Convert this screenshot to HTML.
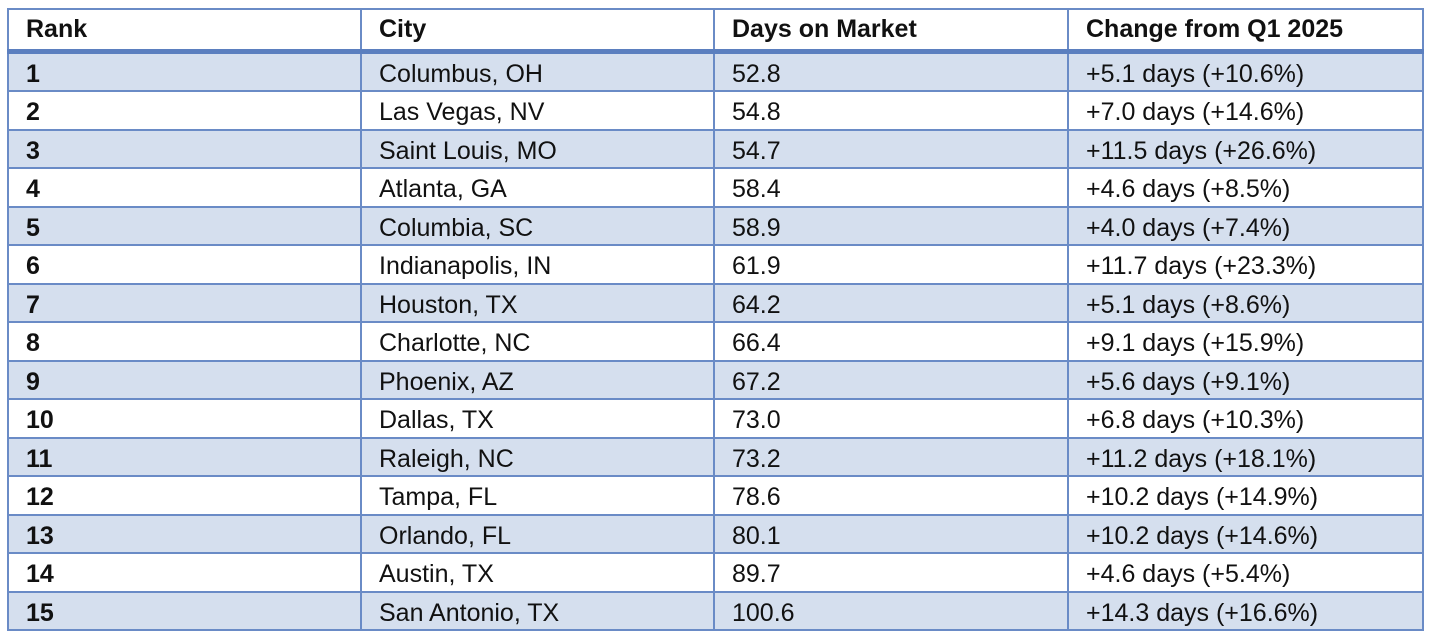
<!DOCTYPE html>
<html><head><meta charset="utf-8"><style>
html,body{margin:0;padding:0;background:#fff;width:1440px;height:641px;overflow:hidden}
table{position:absolute;left:7px;top:8px;border-collapse:collapse;font-family:"Liberation Sans",sans-serif;font-size:25px;color:#111}
td,th{border:2px solid #6a8bc6;padding:0 0 0 17px;text-align:left;white-space:nowrap}
td{height:32.5px;line-height:32.5px;padding-top:4px}
th{height:38.5px;line-height:38.5px;font-weight:bold;border-bottom:5px solid #5b7fbf}
tbody tr:nth-child(odd) td{background:#d5dfee}
td:first-child{font-weight:bold}
</style></head><body>
<table>
<colgroup><col style="width:353px"><col style="width:353px"><col style="width:354px"><col style="width:355px"></colgroup>
<thead><tr><th>Rank</th><th>City</th><th>Days on Market</th><th>Change from Q1 2025</th></tr></thead>
<tbody>
<tr><td>1</td><td>Columbus, OH</td><td>52.8</td><td>+5.1 days (+10.6%)</td></tr>
<tr><td>2</td><td>Las Vegas, NV</td><td>54.8</td><td>+7.0 days (+14.6%)</td></tr>
<tr><td>3</td><td>Saint Louis, MO</td><td>54.7</td><td>+11.5 days (+26.6%)</td></tr>
<tr><td>4</td><td>Atlanta, GA</td><td>58.4</td><td>+4.6 days (+8.5%)</td></tr>
<tr><td>5</td><td>Columbia, SC</td><td>58.9</td><td>+4.0 days (+7.4%)</td></tr>
<tr><td>6</td><td>Indianapolis, IN</td><td>61.9</td><td>+11.7 days (+23.3%)</td></tr>
<tr><td>7</td><td>Houston, TX</td><td>64.2</td><td>+5.1 days (+8.6%)</td></tr>
<tr><td>8</td><td>Charlotte, NC</td><td>66.4</td><td>+9.1 days (+15.9%)</td></tr>
<tr><td>9</td><td>Phoenix, AZ</td><td>67.2</td><td>+5.6 days (+9.1%)</td></tr>
<tr><td>10</td><td>Dallas, TX</td><td>73.0</td><td>+6.8 days (+10.3%)</td></tr>
<tr><td>11</td><td>Raleigh, NC</td><td>73.2</td><td>+11.2 days (+18.1%)</td></tr>
<tr><td>12</td><td>Tampa, FL</td><td>78.6</td><td>+10.2 days (+14.9%)</td></tr>
<tr><td>13</td><td>Orlando, FL</td><td>80.1</td><td>+10.2 days (+14.6%)</td></tr>
<tr><td>14</td><td>Austin, TX</td><td>89.7</td><td>+4.6 days (+5.4%)</td></tr>
<tr><td>15</td><td>San Antonio, TX</td><td>100.6</td><td>+14.3 days (+16.6%)</td></tr>
</tbody></table>
</body></html>
